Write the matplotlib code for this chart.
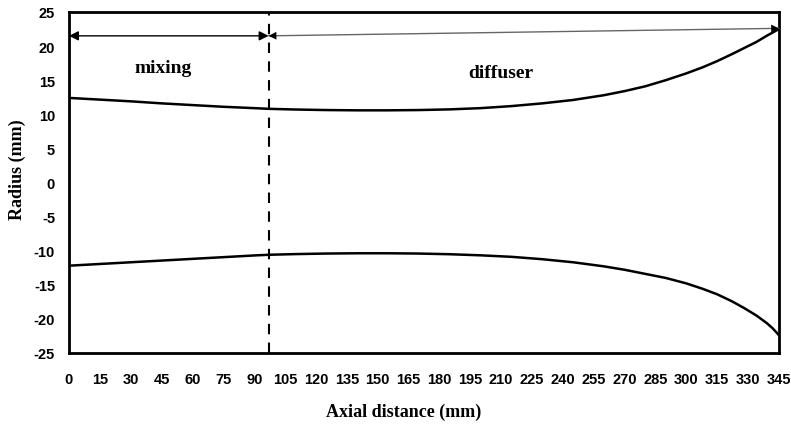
import numpy as np
import matplotlib
matplotlib.use('Agg')
import matplotlib.pyplot as plt

plt.rcParams['axes.unicode_minus'] = False

# 轮廓数据 (mm)
x_upper = [0, 15, 30, 45, 60, 75, 90, 97, 110, 125, 140, 155, 170, 185, 200, 215, 230, 245,
           260, 270, 280, 290, 300, 308, 315, 322, 328, 334, 339, 342, 345]
r_upper = [12.4, 12.15, 11.9, 11.6, 11.35, 11.1, 10.9, 10.8, 10.7, 10.62, 10.58, 10.58, 10.62, 10.72, 10.9, 11.2, 11.6, 12.1,
           12.8, 13.4, 14.1, 15.0, 16.0, 16.9, 17.8, 18.8, 19.7, 20.6, 21.5, 22.0, 22.5]
x_lower = [0, 15, 30, 45, 60, 75, 90, 97, 110, 125, 140, 155, 170, 185, 200, 215, 230, 245,
           260, 270, 280, 290, 300, 308, 315, 322, 328, 334, 339, 342, 345]
r_lower = [-12.2, -11.95, -11.7, -11.45, -11.2, -10.95, -10.7, -10.6, -10.5, -10.42, -10.38, -10.38, -10.42, -10.52, -10.68, -10.9, -11.25, -11.7,
           -12.3, -12.8, -13.4, -14.0, -14.8, -15.6, -16.4, -17.4, -18.4, -19.5, -20.6, -21.4, -22.4]

x_mix_end = 97
y_arrow = 21.5
y_arrow_end = 22.6
x_ticks = list(range(0, 346, 15))
y_ticks = list(range(-25, 26, 5))

fig = plt.figure(figsize=(7.91, 4.27), dpi=100)
ax = fig.add_axes([0.0872, 0.171, 0.8976, 0.7986])

ax.plot(x_upper, r_upper, color='black', linewidth=1.8)
ax.plot(x_lower, r_lower, color='black', linewidth=1.8)
ax.axvline(x_mix_end, color='black', linestyle=(0, (5, 4)), linewidth=1.5)

# 区段箭头
ax.annotate('', xy=(0, y_arrow), xytext=(x_mix_end, y_arrow),
            arrowprops=dict(arrowstyle='<|-|>', color='black', lw=1.0,
                            mutation_scale=14, shrinkA=0, shrinkB=0))
ax.annotate('', xy=(x_mix_end, y_arrow), xytext=(345, y_arrow_end),
            arrowprops=dict(arrowstyle='-', color='#666666', lw=1.0,
                            shrinkA=0, shrinkB=0))
ax.annotate('', xy=(x_mix_end, y_arrow), xytext=(x_mix_end + 10, y_arrow + 0.05),
            arrowprops=dict(arrowstyle='-|>', color='black', lw=0,
                            mutation_scale=14, shrinkA=0, shrinkB=0))
ax.annotate('', xy=(345, y_arrow_end), xytext=(335, y_arrow_end - 0.05),
            arrowprops=dict(arrowstyle='-|>', color='black', lw=0,
                            mutation_scale=14, shrinkA=0, shrinkB=0))

serif = 'Liberation Serif'
ax.text(46, 16.9, 'mixing', fontsize=14, fontweight='bold', family=serif,
        ha='center', va='center')
ax.text(210, 16.1, 'diffuser', fontsize=14, fontweight='bold', family=serif,
        ha='center', va='center')

ax.set_xlim(0, 345)
ax.set_ylim(-25, 25)
ax.set_xticks(x_ticks)
ax.set_yticks(y_ticks)
ax.tick_params(length=0, pad=14, labelsize=10.5)
for lab in ax.get_xticklabels() + ax.get_yticklabels():
  lab.set_fontweight('bold')
  lab.set_family('Liberation Sans')
ax.tick_params(axis='y', pad=10)
for s in ax.spines.values():
  s.set_linewidth(2)

ax.set_xlabel('Axial distance (mm)', fontsize=13, fontweight='bold', family=serif)
ax.xaxis.set_label_coords(0.472, -0.145)
ax.set_ylabel('Radius (mm)', fontsize=13, fontweight='bold', family=serif)
ax.yaxis.set_label_coords(-0.06, 0.54)

fig.savefig('out.png', dpi=100)
